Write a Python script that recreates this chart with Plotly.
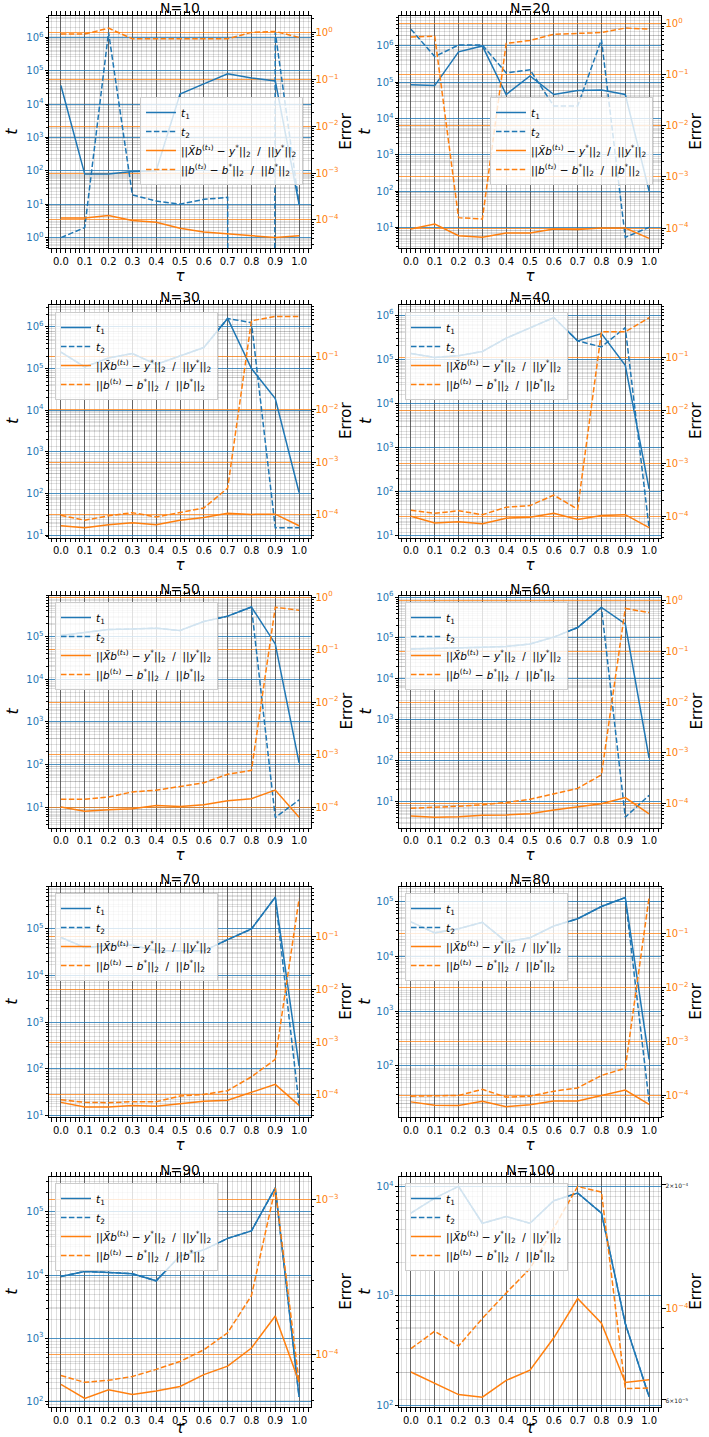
import plotly.graph_objects as go

# ---------------------------------------------------------------- data
tau = [0.0, 0.1, 0.2, 0.3, 0.4, 0.5, 0.6, 0.7, 0.8, 0.9, 1.0]
tau_labels = ["0.0", "0.1", "0.2", "0.3", "0.4", "0.5", "0.6", "0.7", "0.8", "0.9", "1.0"]
panel_sizes = [10, 20, 30, 40, 50, 60, 70, 80, 90, 100]

# iteration counts t1 / t2 (0 = no iterations recorded)
t1_N10 = [3.6e4, 80, 80, 95, 100, 2.0e4, 4.0e4, 8.0e4, 6.0e4, 4.9e4, 10]
t2_N10 = [1, 2, 1.4e6, 19, 12.5, 10, 14, 16, 0, 1.4e6, 10]
t1_N20 = [8.5e4, 8.1e4, 6.9e5, 1.0e6, 4.6e4, 1.5e5, 4.6e4, 5.9e4, 6.1e4, 4.6e4, 100]
t2_N20 = [2.9e6, 5.1e5, 1.06e6, 1.06e6, 1.8e5, 2.2e5, 2.2e4, 2.2e4, 1.5e6, 5.3, 10]
t1_N30 = [2.5e5, 1.1e5, 1.8e5, 2.3e5, 1.26e5, 2.0e5, 3.2e5, 1.6e6, 1.0e5, 1.9e4, 105]
t2_N30 = [2.5e5, 1.1e5, 1.8e5, 2.3e5, 1.26e5, 2.0e5, 3.2e5, 1.6e6, 1.27e6, 15, 15]
t1_N40 = [1.35e5, 1.1e5, 1.2e5, 1.5e5, 3.0e5, 5.2e5, 8.8e5, 2.6e5, 3.8e5, 7.3e4, 115]
t2_N40 = [1.35e5, 1.1e5, 1.2e5, 1.5e5, 3.0e5, 5.2e5, 8.8e5, 2.6e5, 1.9e5, 5.2e5, 15]
t1_N50 = [1.05e5, 1.26e5, 1.46e5, 1.5e5, 1.57e5, 1.38e5, 2.25e5, 3.0e5, 4.9e5, 6.7e4, 110]
t2_N50 = [1.05e5, 1.26e5, 1.46e5, 1.5e5, 1.57e5, 1.38e5, 2.25e5, 3.0e5, 4.9e5, 5.8, 15]
t1_N60 = [5.4e4, 5.5e4, 5.7e4, 5.9e4, 6.2e4, 7.1e4, 1.05e5, 1.8e5, 5.6e5, 2.2e5, 115]
t2_N60 = [5.4e4, 5.5e4, 5.7e4, 5.9e4, 6.2e4, 7.1e4, 1.05e5, 1.8e5, 5.6e5, 4.1, 14]
t1_N70 = [6.6e4, 4.0e4, 4.4e4, 4.5e4, 3.4e4, 3.4e4, 3.4e4, 5.9e4, 1.0e5, 4.8e5, 115]
t2_N70 = [6.6e4, 4.0e4, 4.4e4, 4.5e4, 3.4e4, 3.4e4, 3.4e4, 5.9e4, 1.0e5, 4.8e5, 17]
t1_N80 = [4.3e4, 2.7e4, 3.2e4, 4.2e4, 1.85e4, 2.2e4, 3.6e4, 4.9e4, 8.2e4, 1.2e5, 130]
t2_N80 = [4.3e4, 2.7e4, 3.2e4, 4.2e4, 1.85e4, 2.2e4, 3.6e4, 4.9e4, 8.2e4, 1.2e5, 22]
t1_N90 = [9.5e3, 1.14e4, 1.1e4, 1.05e4, 8.1e3, 2.0e4, 2.5e4, 3.8e4, 5.0e4, 2.4e5, 117]
t2_N90 = [9.5e3, 1.14e4, 1.1e4, 1.05e4, 8.1e3, 2.0e4, 2.5e4, 3.8e4, 5.0e4, 2.4e5, 117]
t1_N100 = [5.7e3, 7.8e3, 1.0e4, 4.6e3, 5.3e3, 4.6e3, 7.4e3, 8.7e3, 5.7e3, 560, 120]
t2_N100 = [5.7e3, 7.8e3, 1.0e4, 4.6e3, 5.3e3, 4.6e3, 7.4e3, 8.7e3, 5.7e3, 560, 120]

# relative errors: fit ||X~b(t1) - y*|| / ||y*||  and  coefficients ||b(t2) - b*|| / ||b*||
fit_err_N10 = [1.1e-4, 1.1e-4, 1.24e-4, 9.7e-5, 8.9e-5, 6.6e-5, 5.5e-5, 5.0e-5, 4.7e-5, 4.2e-5, 4.6e-5]
coef_err_N10 = [0.92, 0.92, 1.23, 0.73, 0.73, 0.73, 0.73, 0.73, 1.0, 1.05, 0.78]
fit_err_N20 = [9.6e-5, 1.2e-4, 7.1e-5, 6.6e-5, 8.0e-5, 8.0e-5, 9.6e-5, 9.4e-5, 1.0e-4, 1.0e-4, 6.3e-5]
coef_err_N20 = [0.55, 0.57, 1.6e-4, 1.5e-4, 0.41, 0.47, 0.62, 0.64, 0.67, 0.82, 0.78]
fit_err_N30 = [6.2e-5, 5.7e-5, 6.5e-5, 7.1e-5, 6.5e-5, 7.9e-5, 8.9e-5, 1.07e-4, 1.02e-4, 1.03e-4, 6.2e-5]
coef_err_N30 = [9.8e-5, 7.9e-5, 9.6e-5, 1.1e-4, 9.1e-5, 1.12e-4, 1.35e-4, 3.2e-4, 0.48, 0.58, 0.58]
fit_err_N40 = [1.0e-4, 7.5e-5, 7.9e-5, 7.2e-5, 9.2e-5, 9.6e-5, 1.14e-4, 8.7e-5, 1.03e-4, 1.07e-4, 6.1e-5]
coef_err_N40 = [1.3e-4, 1.14e-4, 1.27e-4, 1.07e-4, 1.48e-4, 1.59e-4, 2.5e-4, 1.36e-4, 0.30, 0.30, 0.55]
fit_err_N50 = [1.0e-4, 8.3e-5, 8.9e-5, 9.3e-5, 1.07e-4, 1.02e-4, 1.1e-4, 1.32e-4, 1.44e-4, 2.1e-4, 6.4e-5]
coef_err_N50 = [1.41e-4, 1.41e-4, 1.55e-4, 1.94e-4, 2.09e-4, 2.5e-4, 2.9e-4, 4.2e-4, 5.0e-4, 0.64, 0.56]
fit_err_N60 = [5.7e-5, 5.4e-5, 5.5e-5, 5.9e-5, 6.0e-5, 6.3e-5, 7.5e-5, 8.6e-5, 1.0e-4, 1.32e-4, 6.3e-5]
coef_err_N60 = [8.1e-5, 8.4e-5, 8.9e-5, 9.5e-5, 1.05e-4, 1.22e-4, 1.55e-4, 2.0e-4, 3.7e-4, 0.70, 0.58]
fit_err_N70 = [7.2e-5, 5.9e-5, 5.9e-5, 6.3e-5, 6.1e-5, 6.8e-5, 7.6e-5, 7.9e-5, 1.12e-4, 1.58e-4, 6.3e-5]
coef_err_N70 = [8.1e-5, 7.2e-5, 7.1e-5, 7.4e-5, 7.4e-5, 9.5e-5, 1.02e-4, 1.2e-4, 2.2e-4, 4.7e-4, 0.52]
fit_err_N80 = [7.6e-5, 6.6e-5, 6.5e-5, 7.8e-5, 6.2e-5, 6.7e-5, 7.9e-5, 7.9e-5, 1.0e-4, 1.26e-4, 6.8e-5]
coef_err_N80 = [9.7e-5, 9.7e-5, 1.0e-4, 1.3e-4, 9.3e-5, 9.7e-5, 1.2e-4, 1.38e-4, 2.35e-4, 3.2e-4, 0.48]
fit_err_N90 = [6.4e-5, 5.2e-5, 5.9e-5, 5.5e-5, 5.8e-5, 6.2e-5, 7.4e-5, 8.4e-5, 1.1e-4, 1.77e-4, 6.6e-5]
coef_err_N90 = [7.3e-5, 6.6e-5, 6.8e-5, 7.2e-5, 8.0e-5, 9.0e-5, 1.07e-4, 1.38e-4, 2.4e-4, 1.19e-3, 6.6e-5]
fit_err_N100 = [7.0e-5, 6.56e-5, 6.17e-5, 6.08e-5, 6.68e-5, 7.07e-5, 8.48e-5, 1.057e-4, 9.2e-5, 6.6e-5, 6.7e-5]
coef_err_N100 = [7.98e-5, 8.8e-5, 8.1e-5, 9.45e-5, 1.09e-4, 1.25e-4, 1.57e-4, 1.98e-4, 1.92e-4, 6.38e-5, 6.4e-5]

t1_all = [t1_N10, t1_N20, t1_N30, t1_N40, t1_N50, t1_N60, t1_N70, t1_N80, t1_N90, t1_N100]
t2_all = [t2_N10, t2_N20, t2_N30, t2_N40, t2_N50, t2_N60, t2_N70, t2_N80, t2_N90, t2_N100]
fit_all = [fit_err_N10, fit_err_N20, fit_err_N30, fit_err_N40, fit_err_N50,
           fit_err_N60, fit_err_N70, fit_err_N80, fit_err_N90, fit_err_N100]
coef_all = [coef_err_N10, coef_err_N20, coef_err_N30, coef_err_N40, coef_err_N50,
            coef_err_N60, coef_err_N70, coef_err_N80, coef_err_N90, coef_err_N100]

# log10 axis ranges (left: t, right: Error)
t_ranges = [[-0.31, 6.65], [0.43, 6.84], [0.94, 6.54], [0.96, 6.24], [0.53, 5.96],
            [0.36, 6.04], [0.97, 5.91], [1.06, 5.28], [1.91, 5.56], [1.985, 4.09]]
err_ranges = [[-4.60, 0.36], [-4.39, 0.16], [-4.43, -0.01], [-4.40, -0.01], [-4.39, 0.03],
              [-4.47, 0.10], [-4.42, -0.05], [-4.40, -0.12], [-4.34, -2.85], [-4.24, -3.679]]

# ---------------------------------------------------------------- style
W, H = 709, 1437
C0, C1 = "#1f77b4", "#ff7f0e"
FONT = "DejaVu Sans"
DASH = "5.5px,2.4px"
col_px = [(49, 311), (399, 661)]
row_px = [(15.5, 248), (304.5, 537.5), (595.5, 827.5), (886.5, 1117), (1176.5, 1407)]
legend_px = [(140, 97), (490, 97), (55, 312), (405, 312), (55, 602),
             (405, 602), (55, 893), (405, 893), (55, 1183), (405, 1183)]
# horizontal offsets (px) of the y-axis titles from the plot edges, per column
t_title_shift = [-37, -34]
err_title_shift = [35, 35]

MINUS = "\u2212"
NB = "\u00a0"


def pow_label(k):
    return "10<sup>" + (MINUS if k < 0 else "") + str(abs(k)) + "</sup>"


def clip_log(vals):
    # non-positive entries cannot sit on a log axis: clip them far below the view
    return [v if v > 0 else 1e-300 for v in vals]


decades = list(range(-8, 9))
major_vals = [10.0 ** k for k in decades]
major_text = [pow_label(k) for k in decades]
minor_vals = [m * 10.0 ** k for k in decades for m in range(2, 10)]

leg_t1 = "<i>t</i><sub>1</sub>"
leg_t2 = "<i>t</i><sub>2</sub>"
leg_fit = ("||<i>X\u0303b</i><sup>(<i>t</i>\u2081)</sup> " + MINUS + " <i>y</i><sup>*</sup>||<sub>2</sub>"
           + NB * 2 + "/" + NB * 2 + "||<i>y</i><sup>*</sup>||<sub>2</sub>")
leg_coef = ("||<i>b</i><sup>(<i>t</i>\u2082)</sup> " + MINUS + " <i>b</i><sup>*</sup>||<sub>2</sub>"
            + NB * 2 + "/" + NB * 2 + "||<i>b</i><sup>*</sup>||<sub>2</sub>")

fig = go.Figure()
layout = dict(
    width=W, height=H, autosize=False,
    margin=dict(l=0, r=0, t=0, b=0),
    paper_bgcolor="white", plot_bgcolor="white",
    font=dict(family=FONT, size=10, color="black"),
    annotations=[],
)

for i, n in enumerate(panel_sizes):
    k = i + 1
    r, c = divmod(i, 2)
    x0, x1 = col_px[c]
    top, bot = row_px[r]
    xname = "x" if k == 1 else f"x{k}"
    yl_n, yr_n = 2 * k - 1, 2 * k
    yl = "y" if yl_n == 1 else f"y{yl_n}"
    yr = f"y{yr_n}"
    leg = "legend" if k == 1 else f"legend{k}"

    common = dict(mode="lines", x=tau, xaxis=xname, legend=leg, hoverinfo="skip")
    fig.add_trace(go.Scatter(y=clip_log(t1_all[i]), yaxis=yl, name=leg_t1,
                             line=dict(color=C0, width=1.5), **common))
    fig.add_trace(go.Scatter(y=clip_log(t2_all[i]), yaxis=yl, name=leg_t2,
                             line=dict(color=C0, width=1.5, dash=DASH), **common))
    fig.add_trace(go.Scatter(y=clip_log(fit_all[i]), yaxis=yr, name=leg_fit,
                             line=dict(color=C1, width=1.5), **common))
    fig.add_trace(go.Scatter(y=clip_log(coef_all[i]), yaxis=yr, name=leg_coef,
                             line=dict(color=C1, width=1.5, dash=DASH), **common))

    layout["xaxis" if k == 1 else f"xaxis{k}"] = dict(
        domain=[x0 / W, x1 / W], anchor=yl, range=[-0.05, 1.05],
        tickmode="array", tickvals=tau, ticktext=tau_labels,
        ticks="outside", ticklen=3.5, tickcolor="black", tickwidth=1,
        tickfont=dict(size=10, color="black"),
        showline=True, linecolor="black", linewidth=1, mirror="allticks",
        showgrid=True, gridcolor="rgba(60,60,60,0.75)", gridwidth=1,
        minor=dict(dtick=0.02, tick0=0, ticks="outside", ticklen=2, tickcolor="black",
                   showgrid=True, gridcolor="rgba(0,0,0,0.13)", gridwidth=0.6),
        zeroline=False, automargin=False,
        title=dict(text="<i>\u03c4</i>", font=dict(size=15), standoff=0),
    )

    layout["yaxis" if yl_n == 1 else f"yaxis{yl_n}"] = dict(
        domain=[1 - bot / H, 1 - top / H], anchor=xname, type="log",
        range=t_ranges[i], tickmode="array", tickvals=major_vals, ticktext=major_text,
        ticks="outside", ticklen=3.5, tickcolor="black", tickwidth=1,
        tickfont=dict(size=10, color=C0), ticklabelstandoff=-1,
        showline=True, linecolor="black", linewidth=1,
        showgrid=True, gridcolor="rgba(31,119,180,0.8)", gridwidth=1,
        minor=dict(tickmode="array", tickvals=minor_vals, ticks="outside", ticklen=2,
                   tickcolor="black", showgrid=True, gridcolor="rgba(0,0,0,0.12)",
                   gridwidth=0.6),
        zeroline=False, automargin=False,
    )

    if n == 100:
        # narrow error range: label a couple of intermediate values in a small font
        r_vals = [6e-5, 1e-4, 2e-4]
        small = '<span style="font-size:6px;color:#222">'
        r_text = [small + "6\u00d710<sup>" + MINUS + "5</sup></span>", pow_label(-4),
                  small + "2\u00d710<sup>" + MINUS + "4</sup></span>"]
    else:
        r_vals, r_text = major_vals, major_text
    layout[f"yaxis{yr_n}"] = dict(
        overlaying=yl, side="right", anchor=xname, type="log",
        range=err_ranges[i], tickmode="array", tickvals=r_vals, ticktext=r_text,
        ticks="outside", ticklen=3.5, tickcolor="black", tickwidth=1,
        tickfont=dict(size=10, color=C1), ticklabelstandoff=-2,
        showline=True, linecolor="black", linewidth=1,
        showgrid=n != 100, gridcolor="rgba(255,127,14,0.75)", gridwidth=1,
        minor=dict(tickmode="array", tickvals=minor_vals, ticks="outside", ticklen=2,
                   tickcolor="black", showgrid=True, gridcolor="rgba(0,0,0,0.12)",
                   gridwidth=0.6),
        zeroline=False, automargin=False,
    )

    lx, ly = legend_px[i]
    layout[leg] = dict(
        x=lx / W, y=1 - ly / H, xanchor="left", yanchor="top",
        bgcolor="rgba(255,255,255,0.8)", bordercolor="#cccccc", borderwidth=1,
        font=dict(family=FONT, size=10.5, color="black"),
        itemwidth=30, tracegroupgap=0,
    )

    xdom, ydom = f"{xname} domain", f"{yl} domain"
    layout["annotations"] += [
        dict(text=f"N={n}", xref=xdom, yref=ydom, x=0.5, y=1,
             xanchor="center", yanchor="middle", yshift=7,
             showarrow=False, font=dict(size=14, color="black")),
        dict(text="<i>t</i>", xref=xdom, yref=ydom, x=0, y=0.5,
             xanchor="center", yanchor="middle", xshift=t_title_shift[c], textangle=-90,
             showarrow=False, font=dict(size=16, color="black")),
        dict(text="Error", xref=xdom, yref=ydom, x=1, y=0.5,
             xanchor="center", yanchor="middle", xshift=err_title_shift[c], textangle=-90,
             showarrow=False, font=dict(size=15, color="black")),
    ]

fig.update_layout(**layout)

# the 1e-4 reference line on the narrow N=100 error axis
fig.add_shape(type="line", xref="x10 domain", yref="y20", x0=0, x1=1,
              y0=-4, y1=-4, line=dict(color="rgba(255,127,14,0.75)", width=1), layer="below")

fig.write_html("out.html")
